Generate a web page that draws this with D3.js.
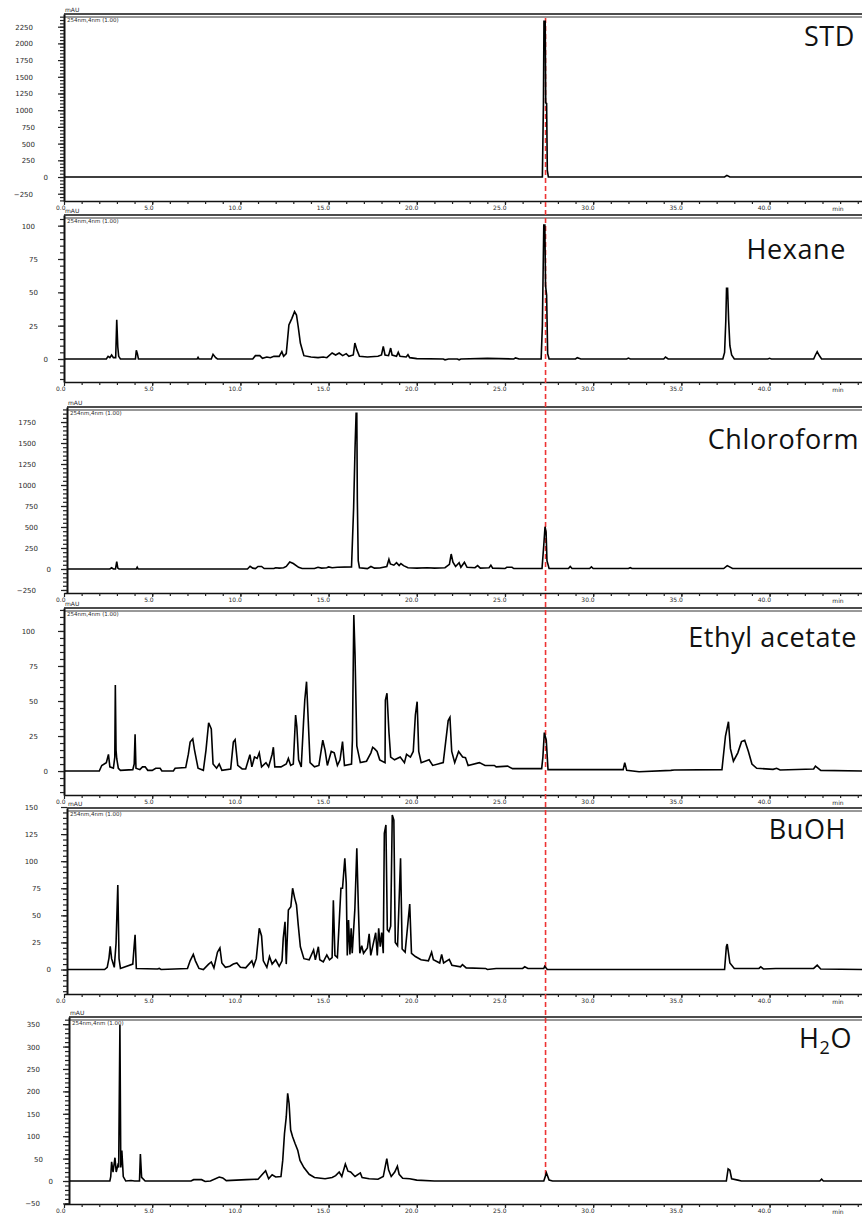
<!DOCTYPE html>
<html>
<head>
<meta charset="utf-8">
<script src="https://cdn.jsdelivr.net/npm/d3@7"></script>
<style>
  body { margin: 0; background: #fff; }
  svg { display: block; }
  .small { font-family: "DejaVu Sans", sans-serif; fill: #2a2a2a; }
  .title { font-family: "Open Sans", sans-serif; fill: #111; }
</style>
</head>
<body>
<svg width="862" height="1214"></svg>
<script>
// sample names, top to bottom
var sampleNames = ["STD", "Hexane", "Chloroform", "Ethyl acetate", "BuOH", "H2O"];

// [retention time (min), signal (mAU)]
var stdTrace = [[0,0],[27.12,0],[27.18,1100],[27.21,2330],[27.28,2330],[27.31,1110],[27.36,1100],[27.4,100],[27.46,0],
  [37.45,0],[37.58,25],[37.75,0],[45.24,0]];

var hexaneTrace = [[0,0],[2.4,0],[2.5,2],[2.6,1],[2.7,3],[2.8,1],[2.93,1],[2.99,29.5],[3.05,9],[3.1,2],[3.2,0],
  [4.05,0],[4.1,6.5],[4.16,4],[4.22,0],[7.55,0],[7.6,1.2],[7.65,0],[8.35,0],[8.45,3.5],[8.6,1],[8.7,0],
  [10.7,0],[10.85,2.5],[11.1,2.5],[11.25,0.5],[11.5,1.5],[11.7,1],[11.9,2],[12.2,2],[12.35,5.5],[12.45,2],
  [12.6,4],[12.75,25.5],[12.92,30.5],[13.07,35.5],[13.18,33],[13.28,24],[13.4,12],[13.6,2.5],[14.0,1.5],
  [14.4,1],[14.7,1.5],[14.9,1],[15.2,4.5],[15.4,3],[15.6,4.5],[15.8,2.5],[16.0,4],[16.15,2],[16.4,3],
  [16.49,12],[16.6,7],[16.75,2],[17.2,1.5],[17.8,2],[18.0,3],[18.1,9.5],[18.2,3],[18.4,2.5],[18.52,8.2],
  [18.6,3],[18.85,2],[18.95,5],[19.05,2],[19.4,1.5],[19.5,3.2],[19.6,1],[20.0,0.3],[21.5,0],[21.6,-0.6],
  [21.8,0],[22.3,0],[22.4,-0.6],[22.5,0],[24.0,0.5],[25.5,0],[25.6,0.8],[25.8,0],[27.05,0],[27.12,25],
  [27.2,100.5],[27.26,100.5],[27.3,55],[27.36,48],[27.42,4],[27.5,0],[29.0,0],[29.1,1],[29.3,0],[31.9,0],
  [32.0,0.7],[32.1,0],[34.0,0],[34.1,1.5],[34.25,0],[37.35,0],[37.45,5],[37.52,29],[37.56,53],[37.62,53],
  [37.68,29],[37.75,10],[37.85,3],[38.0,0],[39.9,0],[40.0,0.5],[40.1,0],[42.5,0],[42.6,3],[42.7,5.5],
  [42.8,3],[42.95,0],[45.24,0]];

var chloroformTrace = [[0,0],[2.6,0],[2.7,15],[2.8,0],[2.92,0],[2.99,87],[3.05,10],[3.12,0],[4.1,0],[4.15,20],
  [4.2,0],[10.4,0],[10.55,32],[10.7,10],[10.85,5],[11.0,30],[11.2,30],[11.35,5],[11.9,5],[12.0,15],[12.2,10],
  [12.45,15],[12.6,30],[12.8,83],[13.0,65],[13.3,20],[13.5,5],[14.2,5],[14.4,20],[14.6,10],[14.9,15],
  [15.0,25],[15.2,15],[15.5,20],[16.3,25],[16.42,730],[16.5,1440],[16.56,1853],[16.6,1853],[16.63,821],
  [16.68,100],[16.75,15],[17.2,5],[17.4,30],[17.6,10],[17.9,12],[18.3,30],[18.42,115],[18.5,60],[18.7,45],
  [18.85,75],[19.0,40],[19.1,65],[19.25,40],[19.5,15],[20.0,10],[20.6,15],[21.0,10],[21.6,15],[21.85,55],
  [21.95,178],[22.05,80],[22.2,30],[22.4,75],[22.5,20],[22.7,80],[22.85,20],[23.3,15],[23.45,40],[23.6,10],
  [24.1,15],[24.2,45],[24.3,10],[25.0,5],[25.1,20],[25.4,20],[25.5,5],[27.1,5],[27.2,286],[27.27,503],
  [27.33,440],[27.38,100],[27.5,5],[28.6,5],[28.7,30],[28.8,5],[29.8,5],[29.9,25],[30.0,5],[32.0,5],
  [32.1,15],[32.2,5],[37.4,5],[37.6,40],[37.9,5],[45.24,5]];

var ethylAcetateTrace = [[0,0],[2.0,0],[2.14,4],[2.4,6],[2.52,11.9],[2.6,3],[2.8,2],[2.88,10],[2.91,61.4],
  [2.95,15],[2.99,8.8],[3.08,2],[3.2,0.5],[3.9,1],[3.98,5],[4.03,26.2],[4.08,2],[4.3,1],[4.45,3],[4.6,3],
  [4.75,0.5],[5.0,0.5],[5.2,2],[5.45,2],[5.55,0],[6.2,0],[6.3,2],[6.9,2.5],[7.05,12],[7.15,20.7],[7.3,23],
  [7.4,15],[7.6,2],[7.9,0.5],[8.05,15],[8.2,34.5],[8.35,30],[8.45,5],[8.65,2],[8.8,5],[8.95,0.5],[9.45,1.5],
  [9.6,20.7],[9.7,22.4],[9.85,4],[10.1,1.5],[10.3,1.5],[10.54,11.7],[10.65,3],[10.8,10],[10.95,9],
  [11.07,13],[11.2,3],[11.45,6],[11.6,3],[11.8,12],[11.87,17],[11.95,3],[12.3,3],[12.6,5],[12.72,9],
  [12.85,4],[13.0,5],[13.13,40],[13.2,31.7],[13.3,8],[13.45,3],[13.58,35],[13.65,50.7],[13.75,63.8],
  [13.85,35],[13.95,6],[14.2,3],[14.45,4],[14.67,22],[14.8,15],[14.93,4],[15.15,14],[15.32,13],[15.5,4],
  [15.65,8],[15.79,21],[15.9,4],[16.3,5],[16.35,22],[16.43,111.4],[16.5,82.8],[16.6,18],[16.8,6],
  [17.15,7],[17.4,13],[17.5,17],[17.6,16],[17.75,14],[17.9,8],[18.2,6],[18.22,50.7],[18.31,55.5],
  [18.42,28],[18.52,10],[18.74,8],[19.06,10],[19.3,6],[19.42,12],[19.64,10],[19.8,14],[19.92,40],
  [20.02,49.5],[20.11,14],[20.25,6],[20.7,8],[20.9,4],[21.5,6],[21.78,36],[21.88,38.3],[21.98,14],
  [22.15,6],[22.37,14],[22.6,10],[22.76,9.6],[22.91,4],[23.55,6],[23.87,4],[24.4,4],[24.5,3],[25.15,3.5],
  [25.43,1.7],[27.08,1.7],[27.15,10],[27.23,27.4],[27.34,22],[27.44,1],[31.7,1],[31.79,6],[31.9,0.5],[32.6,-0.5],
  [34.4,0.5],[34.6,0.7],[37.3,1],[37.5,25],[37.67,35.2],[37.78,16],[37.95,7],[38.2,13],[38.41,21],
  [38.59,22],[38.8,14],[39.0,5],[39.27,2],[40.2,1.2],[40.4,2],[40.6,0.8],[42.5,1.5],[42.6,3.5],[42.9,0.5],
  [45.24,0]];

var buohTrace = [[0,0],[2.3,0],[2.45,2],[2.55,10.6],[2.62,21.4],[2.7,10],[2.85,2],[2.95,24],[3.05,78],
  [3.12,10],[3.2,1],[3.9,5],[3.97,20],[4.03,32],[4.1,1],[5.3,0.5],[5.4,1],[5.5,0],[7.0,1],[7.15,8],
  [7.33,14],[7.45,8],[7.65,1],[7.9,0],[8.2,5],[8.35,7],[8.5,1.5],[8.7,16],[8.84,20],[8.95,6],[9.15,2],
  [9.4,3],[9.6,5],[9.8,6],[10.0,2],[10.3,1.5],[10.65,8],[10.75,3],[10.9,10],[11.07,38],[11.2,31],[11.3,8],
  [11.5,2],[11.65,12],[11.8,5],[12.0,9],[12.2,3],[12.36,8],[12.43,29],[12.53,44],[12.6,5],[12.72,55],
  [12.86,58],[12.96,75],[13.08,65.7],[13.18,59.6],[13.28,41],[13.4,21],[13.6,10],[13.9,9],[14.15,18],
  [14.25,9],[14.42,21],[14.5,9],[14.7,7],[14.9,13.4],[15.05,9],[15.2,11],[15.27,64],[15.36,13],[15.5,11],
  [15.7,75],[15.79,75],[15.92,102.7],[16.0,80],[16.06,13],[16.13,45.7],[16.21,14],[16.28,38],[16.34,15],
  [16.49,56],[16.6,112],[16.69,56],[16.77,15],[16.88,22],[16.98,15],[17.2,20],[17.3,33],[17.39,13],
  [17.67,34],[17.76,13],[17.84,38],[17.93,21],[18.01,34],[18.1,15],[18.16,125.7],[18.25,133.4],
  [18.33,36.7],[18.42,35],[18.52,40],[18.61,142.7],[18.7,138],[18.78,25],[18.91,22],[19.08,102.7],
  [19.17,19],[19.34,16],[19.6,60.5],[19.7,15],[19.92,12],[20.24,9],[20.66,8],[20.84,16],[20.94,9],
  [21.3,6],[21.41,14],[21.52,6],[21.84,9.4],[21.99,4],[22.48,2.5],[22.59,4.6],[22.8,1.5],[23.9,1],[24.0,0],
  [24.5,1],[26.0,1],[26.12,2.5],[26.3,1],[27.2,1],[27.25,3],[27.4,0],[34.2,0],[37.45,0],[37.55,21],
  [37.6,23.5],[37.75,6],[38.0,1],[39.4,1],[39.5,2.5],[39.65,0.5],[40.35,1],[42.5,1],[42.7,4],[42.9,0.5],
  [45.24,0]];

var waterTrace = [[0,0],[2.6,0],[2.65,10],[2.7,43],[2.78,20],[2.89,52],[2.96,20],[3.05,35],[3.1,30],
  [3.17,348],[3.22,30],[3.28,68],[3.36,10],[3.5,0],[3.8,1],[4.0,0],[4.28,0],[4.33,60],[4.4,8],[4.6,0],
  [7.2,0],[7.35,3],[7.8,3],[8.0,-1],[8.3,0],[8.8,9],[9.0,7],[9.2,1],[10.35,3],[11.0,4],[11.25,15],
  [11.43,23],[11.6,5],[11.8,14],[12.0,9],[12.3,10],[12.4,46],[12.5,106],[12.6,143],[12.68,195.6],
  [12.76,173],[12.85,113.7],[12.96,98.7],[13.1,83.8],[13.25,68.9],[13.38,46],[13.6,30],[13.9,15],[14.2,8],
  [14.8,5],[15.2,8],[15.4,12],[15.6,20],[15.75,10],[15.95,38],[16.1,22],[16.25,20],[16.5,10],[16.8,18],
  [16.9,8],[17.3,5],[17.8,4],[18.1,10],[18.3,50],[18.4,25],[18.55,10],[18.75,20],[18.9,33],[19.0,15],
  [19.2,6],[19.6,5],[20.0,2],[21.0,0],[27.2,0],[27.35,18],[27.5,2],[27.7,0],[37.55,0],[37.65,27],
  [37.75,24],[37.85,5],[38.2,2],[38.4,0],[42.85,0],[42.95,4],[43.05,0],[45.24,0]];

var traces = [stdTrace, hexaneTrace, chloroformTrace, ethylAcetateTrace, buohTrace, waterTrace];

// labelled y ticks for each panel
var yTickLabels = [
  [-250, 0, 250, 500, 750, 1000, 1250, 1500, 1750, 2000, 2250],
  [0, 25, 50, 75, 100],
  [-250, 0, 250, 500, 750, 1000, 1250, 1500, 1750],
  [0, 25, 50, 75, 100],
  [0, 25, 50, 75, 100, 125, 150],
  [-50, 0, 50, 100, 150, 200, 250, 300, 350]
];
var yMinorStep = [50, 5, 50, 5, 5, 10];

var timeTickLabels = ["0.0", "5.0", "10.0", "15.0", "20.0", "25.0", "30.0", "35.0", "40.0"];
var markerTime = 27.3; // retention time of the standard

// layout of the six stacked panels
var panelLayout = [
  { top: 14, bottom: 201, axisX: 64, yMin: -359, yMax: 2440, titleX: 855, titleY: 46 },
  { top: 215, bottom: 382, axisX: 64, yMin: -17.25, yMax: 108, titleX: 846, titleY: 259 },
  { top: 407, bottom: 593, axisX: 67, yMin: -286, yMax: 1929, titleX: 859, titleY: 449 },
  { top: 608, bottom: 795, axisX: 64, yMin: -17.1, yMax: 116.4, titleX: 857, titleY: 647 },
  { top: 808, bottom: 994, axisX: 67, yMin: -22.6, yMax: 149.1, titleX: 846, titleY: 839 },
  { top: 1017, bottom: 1204, axisX: 69, yMin: -51.3, yMax: 366, titleX: 852, titleY: 1048 }
];

var svg = d3.select("svg"),
  width = +svg.attr("width"),
  height = +svg.attr("height");

var x = d3.scaleLinear().domain([0, 45.24]).range([64, width]);

var defs = svg.append("defs");
var traceLayer = [];

panelLayout.forEach(function(p, i) {
  var y = d3.scaleLinear().domain([p.yMin, p.yMax]).range([p.bottom, p.top]);
  var g = svg.append("g").attr("class", "panel");

  // top border (double rule)
  g.append("line").attr("x1", p.axisX).attr("x2", width).attr("y1", p.top).attr("y2", p.top)
    .attr("stroke", "#111").attr("stroke-width", 1.5);
  g.append("line").attr("x1", p.axisX).attr("x2", width).attr("y1", p.top + 3).attr("y2", p.top + 3)
    .attr("stroke", "#333").attr("stroke-width", 1);

  // y axis: minor ticks then labelled ones
  var minor = d3.range(Math.ceil(p.yMin / yMinorStep[i]) * yMinorStep[i], p.yMax, yMinorStep[i]);
  g.append("g")
    .attr("transform", "translate(" + p.axisX + ",0)")
    .call(d3.axisLeft(y).tickValues(minor).tickSize(4).tickSizeOuter(0).tickFormat(""))
    .call(function(a) {
      a.select(".domain").attr("stroke", "#111").attr("stroke-width", 2);
      a.selectAll(".tick line").attr("stroke", "#222").attr("stroke-width", 1.2);
    });
  var yl = g.append("g")
    .attr("transform", "translate(" + p.axisX + ",0)")
    .call(d3.axisLeft(y).tickValues(yTickLabels[i]).tickSize(6).tickSizeOuter(0).tickFormat(d3.format("d")));
  yl.select(".domain").remove();
  yl.selectAll(".tick line").attr("stroke", "#222").attr("stroke-width", 1.2);
  yl.selectAll(".tick text")
    .attr("class", "small")
    .attr("font-size", 7)
    .attr("font-family", null)
    .attr("x", function(d) {
      var n = String(d).length;
      return n == 1 ? -16 : n == 2 ? -26 : n == 3 ? -29 : -31;
    })
    .attr("dy", "0.35em");

  // x axis
  g.append("g")
    .attr("transform", "translate(0," + p.bottom + ")")
    .call(d3.axisBottom(x).tickValues(d3.range(1, 46)).tickSize(3).tickSizeOuter(0).tickFormat(""))
    .call(function(a) {
      a.select(".domain").attr("stroke", "#111").attr("stroke-width", 1.5);
      a.selectAll(".tick line").attr("stroke", "#222").attr("stroke-width", 1.2);
    });
  var xl = g.append("g")
    .attr("transform", "translate(0," + p.bottom + ")")
    .call(d3.axisBottom(x).tickValues(d3.range(0, 45, 5)).tickSize(4).tickSizeOuter(0)
      .tickFormat(function(d, k) { return timeTickLabels[k]; }));
  xl.select(".domain").remove();
  xl.selectAll(".tick line").attr("stroke", "#222").attr("stroke-width", 1.2);
  xl.selectAll(".tick text")
    .attr("class", "small")
    .attr("font-size", 6)
    .attr("font-family", null)
    .attr("text-anchor", "end")
    .attr("x", 1)
    .attr("y", 5)
    .attr("dy", "0.71em");
  g.append("text").attr("class", "small").attr("font-size", 6)
    .attr("x", 838).attr("y", p.bottom + 9.5).attr("text-anchor", "middle").text("min");

  // header texts
  g.append("text").attr("class", "small").attr("font-size", 6)
    .attr("x", p.axisX + 1).attr("y", p.top - 2).text("mAU");
  g.append("text").attr("class", "small").attr("font-size", 5.5)
    .attr("x", p.axisX + 3).attr("y", p.top + 8).text("254nm,4nm (1.00)");

  // sample name
  var t = g.append("text").attr("class", "title")
    .attr("x", p.titleX).attr("y", p.titleY)
    .attr("text-anchor", "end")
    .attr("font-size", 27)
    .attr("letter-spacing", 0.6);
  if (sampleNames[i] == "H2O") {
    t.append("tspan").text("H");
    t.append("tspan").attr("font-size", 18).attr("dy", 6).text("2");
    t.append("tspan").attr("dy", -6).text("O");
  } else {
    t.text(sampleNames[i]);
  }

  defs.append("clipPath").attr("id", "clip" + i)
    .append("rect").attr("x", p.axisX + 1).attr("y", p.top).attr("width", width - p.axisX).attr("height", p.bottom - p.top);

  traceLayer.push({ y: y, clip: "url(#clip" + i + ")" });
});

// dashed marker at the standard's retention time
svg.append("line")
  .attr("x1", x(markerTime)).attr("x2", x(markerTime))
  .attr("y1", 18).attr("y2", 1178)
  .attr("stroke", "#ee3333")
  .attr("stroke-width", 1.6)
  .attr("stroke-dasharray", "5,3");

// chromatogram traces
traces.forEach(function(data, i) {
  var y = traceLayer[i].y;
  var line = d3.line()
    .x(function(d) { return x(d[0]); })
    .y(function(d) { return y(d[1]); });
  svg.append("path")
    .datum(data)
    .attr("clip-path", traceLayer[i].clip)
    .attr("fill", "none")
    .attr("stroke", "#000")
    .attr("stroke-width", 1.6)
    .attr("stroke-linejoin", "miter")
    .attr("d", line);
});
</script>
</body>
</html>
